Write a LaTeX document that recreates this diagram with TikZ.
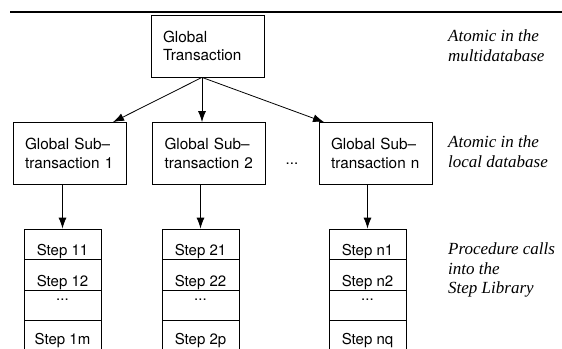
\documentclass[tikz,border=0pt]{standalone}
\usepackage{fontspec}
\setmainfont{Liberation Serif}
\setsansfont{TeX Gyre Heros}
\usetikzlibrary{arrows.meta}
\begin{document}
\begin{tikzpicture}[x=1pt,y=-1pt,
  box/.style={draw,line width=0.8pt,rectangle,minimum height=62pt,text width=93pt,
    inner xsep=10pt,inner ysep=0pt,align=left,font=\sffamily\fontsize{15.3}{18.5}\selectfont},
  arr/.style={line width=0.8pt,-{Latex[length=11pt,width=8pt]}},
  note/.style={anchor=north west,inner sep=0pt,align=left,font=\itshape\fontsize{17}{19.5}\selectfont},
  cell/.style={draw,line width=0.8pt,rectangle,minimum width=77pt,inner sep=0pt},
  steptext/.style={anchor=base,inner sep=0pt,font=\sffamily\fontsize{15}{17}\selectfont}]
\useasboundingbox (0,0) rectangle (562,348);
\draw[line width=1.3pt] (10,12) -- (562,12);

% boxes
\node[box] (gt) at (207.5,46) {\hspace*{2pt}Global\\\hspace*{2pt}Transaction};
\node[box] (s1) at (69.5,153.5) {\hspace*{2pt}Global Sub--\\\hspace*{2pt}transaction 1};
\node[box] (s2) at (209,153.5) {\hspace*{2pt}Global Sub--\\\hspace*{2pt}transaction 2};
\node[box] (sn) at (375.5,153.5) {\hspace*{2pt}Global Sub--\\\hspace*{2pt}transaction n};
\node[inner sep=0pt,font=\sffamily\fontsize{15}{18}\selectfont] (dots) at (292,164) {...};

% arrows from global transaction
\coordinate (gto) at ([xshift=-5.5pt]gt.south);
\draw[arr] (gto) -- ([xshift=43.5pt]s1.north);
\draw[arr] (gto) -- (gto |- s2.north);
\draw[arr] (gto) -- ([xshift=-51.5pt]sn.north);

% step stacks
\foreach \c/\x in {1/62.5,2/200.5,n/367.5}{
  \node[cell,minimum height=30pt] (a\c1) at (\x,244) {};
  \node[cell,minimum height=31pt] (a\c2) at (\x,274.5) {};
  \node[cell,minimum height=30pt] (a\c3) at (\x,305) {};
  \node[cell,minimum height=60pt] (a\c4) at (\x,350) {};
}
\foreach \c/\p/\q/\r in {1/11/12/1m,2/21/22/2p,n/n1/n2/nq}{
  \node[steptext] (t\c1) at ([yshift=4pt]a\c1.south) {Step \p};
  \node[steptext] (t\c2) at ([yshift=4pt]a\c2.south) {Step \q};
  \node[steptext] (t\c3) at ([yshift=-11pt]a\c3.north) {...};
  \node[steptext] (t\c4) at ([yshift=-25pt]a\c4.north) {Step \r};
}

% arrows into stacks
\draw[arr] (s1.south -| a11.north) -- (a11.north);
\draw[arr] (s2.south -| a21.north) -- (a21.north);
\draw[arr] (sn.south -| an1.north) -- (an1.north);

% notes
\node[note] (n1) at (448,30) {Atomic in the\\multidatabase};
\node[note] (n2) at (448,136) {Atomic in the\\local database};
\node[note] (n3) at (448,243) {Procedure calls\\into the\\Step Library};
\end{tikzpicture}
\end{document}
